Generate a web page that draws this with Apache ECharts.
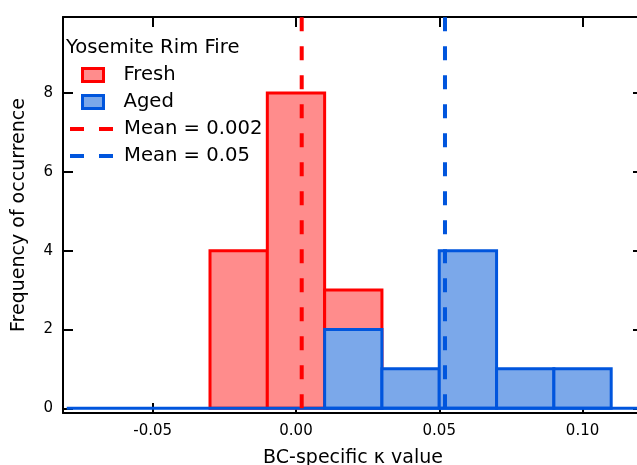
<!DOCTYPE html>
<html>
<head>
<meta charset="utf-8">
<script src="https://cdn.jsdelivr.net/npm/echarts@6/dist/echarts.min.js"></script>
<style>html,body{margin:0;padding:0;background:#fff}#c{width:637px;height:465px}</style>
</head>
<body>
<div id="c"></div>
<script>
// ---- data ----
const binWidth = 0.02;
const freshBinStart = [-0.03, -0.01, 0.01];
const freshCounts = [4, 8, 3];
const agedBinStart = [0.01, 0.03, 0.05, 0.07, 0.09];
const agedCounts = [2, 1, 4, 1, 1];
const baselineRange = [-0.08, 0.13];
const meanValues = [0.002, 0.052];
const meanLabels = ['Mean = 0.002', 'Mean = 0.05'];
const seriesNames = ['Fresh', 'Aged'];
const xTicks = [-0.05, 0, 0.05, 0.10];
const yTicks = [0, 2, 4, 6, 8];
const xRange = [-0.0813, 0.1211];
const yRange = [-0.12, 9.93];

const FONT = 'DejaVu Sans';
const LEG_FS = 19.6;
const red = '#FF0000', redFill = '#FF8C8C';
const blue = '#0055DD', blueFill = '#7BA8EA';
const dash = [14, 15];

function histData(starts, counts) {
  return starts.map((s, i) => [s, s + binWidth, counts[i]]);
}
function histRender(fill, stroke) {
  return function (params, api) {
    const p0 = api.coord([api.value(0), api.value(2)]);
    const p1 = api.coord([api.value(1), 0]);
    return {
      type: 'rect',
      shape: { x: p0[0], y: p0[1], width: p1[0] - p0[0], height: p1[1] - p0[1] },
      style: { fill: fill, stroke: stroke, lineWidth: 3 }
    };
  };
}

const axisCommon = {
  type: 'value',
  axisLine: { show: true, onZero: false, lineStyle: { color: '#000', width: 2 } },
  axisTick: { show: true, inside: true, length: 10, lineStyle: { color: '#000', width: 2 } },
  splitLine: { show: false }
};

const chart = echarts.init(document.getElementById('c'), null, { renderer: 'canvas' });
chart.setOption({
  animation: false,
  backgroundColor: '#fff',
  textStyle: { fontFamily: FONT },
  grid: { left: 63, top: 17, right: -6, bottom: 52, containLabel: false, outerBoundsMode: 'none' },
  title: {
    text: 'Yosemite Rim Fire', left: 66, top: 38, padding: 0,
    textStyle: { fontFamily: FONT, fontSize: LEG_FS, fontWeight: 'normal', color: '#000' }
  },
  legend: [
    {
      orient: 'vertical', left: 81, top: 65, padding: 0, itemGap: 7,
      itemWidth: 21, itemHeight: 13, selectedMode: false,
      textStyle: { fontFamily: FONT, fontSize: LEG_FS, color: '#000', lineHeight: 20, padding: [0, 0, 0, 15] },
      data: [
        { name: seriesNames[0], icon: 'rect', itemStyle: { color: redFill, borderColor: red, borderWidth: 3 } },
        { name: seriesNames[1], icon: 'rect', itemStyle: { color: blueFill, borderColor: blue, borderWidth: 3 } }
      ]
    },
    {
      orient: 'vertical', left: 68, top: 119, padding: 0, itemGap: 7,
      itemWidth: 43, itemHeight: 14, selectedMode: false,
      textStyle: { fontFamily: FONT, fontSize: LEG_FS, color: '#000', lineHeight: 20, padding: [0, 0, 0, 6] },
      data: [
        { name: meanLabels[0], itemStyle: { color: 'rgba(0,0,0,0)', borderWidth: 0, opacity: 0 },
          lineStyle: { color: red, width: 4, type: dash } },
        { name: meanLabels[1], itemStyle: { color: 'rgba(0,0,0,0)', borderWidth: 0, opacity: 0 },
          lineStyle: { color: blue, width: 4, type: dash } }
      ]
    }
  ],
  xAxis: [
    Object.assign({}, axisCommon, {
      position: 'bottom', min: xRange[0], max: xRange[1],
      axisTick: Object.assign({}, axisCommon.axisTick, { customValues: xTicks }),
      axisLabel: {
        customValues: xTicks, margin: 11, fontFamily: FONT, fontSize: 15, color: '#000',
        formatter: v => v.toFixed(2)
      },
      name: 'BC-specific κ value', nameLocation: 'middle', nameGap: 36,
      nameTextStyle: { fontFamily: FONT, fontSize: 19, color: '#000' }
    }),
    Object.assign({}, axisCommon, {
      position: 'top', min: xRange[0], max: xRange[1],
      axisTick: Object.assign({}, axisCommon.axisTick, { customValues: xTicks }),
      axisLabel: { show: false }
    })
  ],
  yAxis: [
    Object.assign({}, axisCommon, {
      position: 'left', min: yRange[0], max: yRange[1],
      axisTick: Object.assign({}, axisCommon.axisTick, { customValues: yTicks }),
      axisLabel: { customValues: yTicks, margin: 10, fontFamily: FONT, fontSize: 15, color: '#000' },
      name: 'Frequency of occurrence', nameLocation: 'middle', nameGap: 34,
      nameTextStyle: { fontFamily: FONT, fontSize: 19, color: '#000' }
    }),
    Object.assign({}, axisCommon, {
      position: 'right', min: yRange[0], max: yRange[1],
      axisTick: Object.assign({}, axisCommon.axisTick, { customValues: yTicks }),
      axisLabel: { show: false }
    })
  ],
  series: [
    {
      name: seriesNames[0], type: 'custom', xAxisIndex: 0, yAxisIndex: 0,
      renderItem: histRender(redFill, red), encode: { x: [0, 1], y: 2 },
      itemStyle: { color: redFill, borderColor: red, borderWidth: 3 },
      data: histData(freshBinStart, freshCounts), z: 2
    },
    {
      name: seriesNames[1], type: 'custom', xAxisIndex: 0, yAxisIndex: 0,
      renderItem: histRender(blueFill, blue), encode: { x: [0, 1], y: 2 },
      itemStyle: { color: blueFill, borderColor: blue, borderWidth: 3 },
      data: histData(agedBinStart, agedCounts), z: 3
    },
    {
      name: 'baseline', type: 'line', symbol: 'none', xAxisIndex: 0, yAxisIndex: 0,
      lineStyle: { color: blue, width: 3 }, data: [[baselineRange[0], 0], [baselineRange[1], 0]], z: 4
    },
    {
      name: meanLabels[0], type: 'line', symbol: 'none', xAxisIndex: 0, yAxisIndex: 0,
      color: red, lineStyle: { color: red, width: 4, type: dash },
      data: [[meanValues[0], 0], [meanValues[0], yRange[1]]], z: 5
    },
    {
      name: meanLabels[1], type: 'line', symbol: 'none', xAxisIndex: 0, yAxisIndex: 0,
      color: blue, lineStyle: { color: blue, width: 4, type: dash },
      data: [[meanValues[1], 0], [meanValues[1], yRange[1]]], z: 5
    }
  ]
});
</script>
</body>
</html>
